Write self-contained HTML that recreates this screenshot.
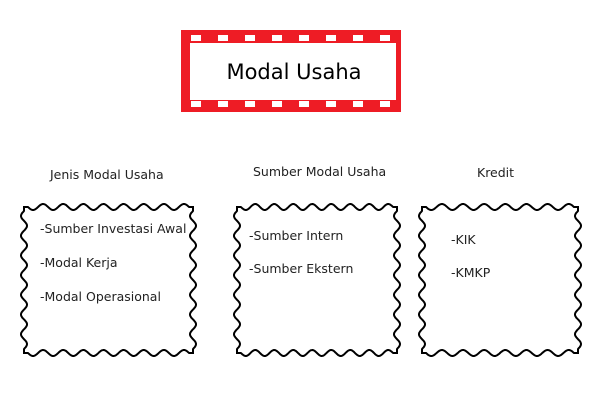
<!DOCTYPE html>
<html><head><style>
body{margin:0;width:600px;height:400px;background:#fff;position:relative;overflow:hidden;font-family:"DejaVu Sans","Liberation Sans",sans-serif;}
.t{position:absolute;font-size:12.5px;color:#222;white-space:nowrap;}
</style></head><body>
<svg id="s" width="600" height="400" style="position:absolute;left:0;top:0">
<rect x="181" y="30" width="220" height="82" fill="#ee1c25"/>
<rect x="190" y="43" width="206" height="57" fill="#fff"/>
<g id="holes" fill="#fff"></g>
<text x="294" y="79" font-family="DejaVu Sans, Liberation Sans, sans-serif" font-size="21" text-anchor="middle" fill="#000">Modal Usaha</text>
<g id="stamps" fill="none" stroke="#000" stroke-width="2"></g>
</svg>
<div class="t" style="left:50px;top:167px">Jenis Modal Usaha</div>
<div class="t" style="left:253px;top:164px">Sumber Modal Usaha</div>
<div class="t" style="left:477px;top:165px">Kredit</div>
<div class="t" style="left:40px;top:221px">-Sumber Investasi Awal</div>
<div class="t" style="left:40px;top:255px">-Modal Kerja</div>
<div class="t" style="left:40px;top:289px">-Modal Operasional</div>
<div class="t" style="left:249px;top:228px">-Sumber Intern</div>
<div class="t" style="left:249px;top:261px">-Sumber Ekstern</div>
<div class="t" style="left:451px;top:232px">-KIK</div>
<div class="t" style="left:451px;top:265px">-KMKP</div>
<script>
var h=document.getElementById('holes'),ns='http://www.w3.org/2000/svg';
for(var i=0;i<8;i++){[35,101].forEach(function(y){var r=document.createElementNS(ns,'rect');r.setAttribute('x',191+i*27);r.setAttribute('y',y);r.setAttribute('width',10);r.setAttribute('height',6);h.appendChild(r);});}
function stamp(x1,y1,x2,y2){
 var d='',A=3,P=20;
 function edge(ax,ay,bx,by,first){
  var L=Math.hypot(bx-ax,by-ay),ux=(bx-ax)/L,uy=(by-ay)/L,nx=-uy,ny=ux;
  var n=Math.max(1,Math.round((L-8)/P)),s=(L-8)/n;
  for(var k=0;k<=300;k++){var t=k/300*L,off=0;
   if(t>4&&t<L-4){off=A*Math.sin((t-4)/s*2*Math.PI);}
   var px=ax+ux*t+nx*off,py=ay+uy*t+ny*off;
   d+=(first&&k==0?'M':'L')+px.toFixed(1)+' '+py.toFixed(1);}
 }
 edge(x1,y1,x2,y1,true);edge(x2,y1,x2,y2);edge(x2,y2,x1,y2);edge(x1,y2,x1,y1);
 var p=document.createElementNS(ns,'path');p.setAttribute('d',d+'Z');document.getElementById('stamps').appendChild(p);
}
stamp(24,207,193,353);stamp(237,207,397,353);stamp(422,207,578,353);
</script>
</body></html>
